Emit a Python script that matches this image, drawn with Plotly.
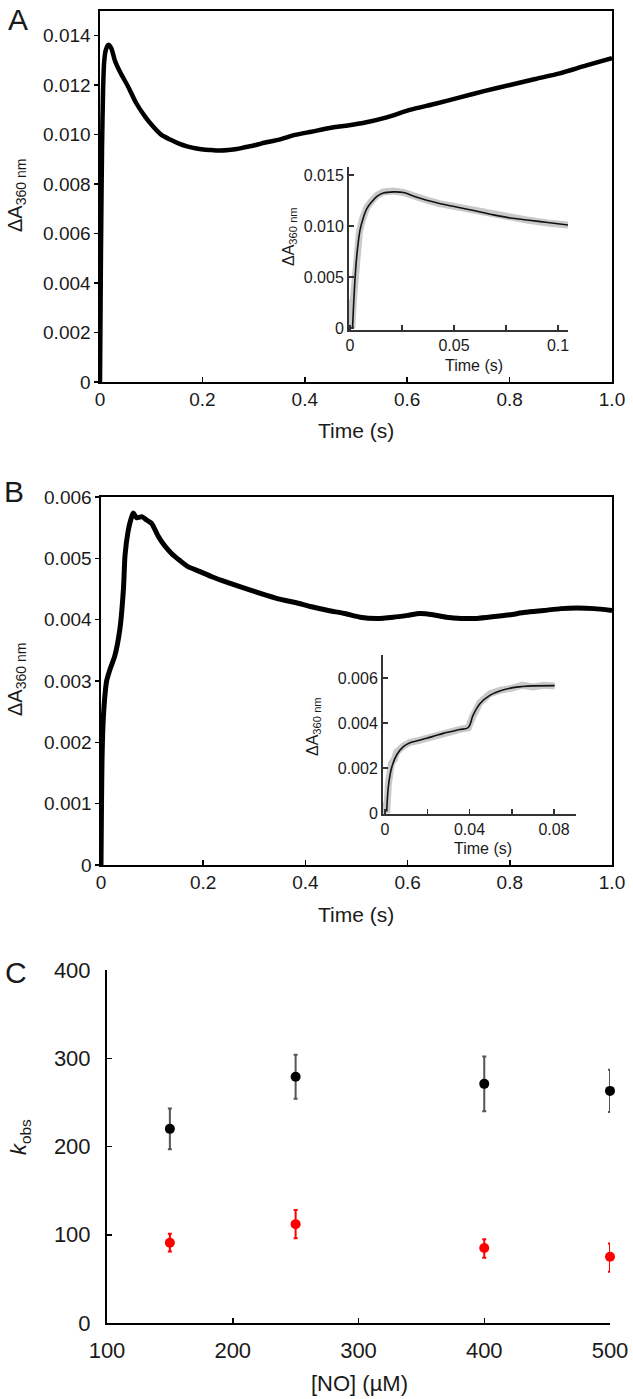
import plotly.graph_objects as go

W, H = 633, 1399
FONT = "Liberation Sans, Arial, sans-serif"
INK = "#1a1a1a"

# ---------------- Panel A (main) ----------------
a_time = [0, 0.001, 0.002, 0.004, 0.006, 0.008, 0.011, 0.016, 0.022, 0.029, 0.04, 0.055, 0.07,
          0.088, 0.105, 0.12, 0.137, 0.153, 0.17, 0.186, 0.202, 0.218, 0.235, 0.251, 0.267,
          0.283, 0.3, 0.316, 0.35, 0.381, 0.413, 0.446, 0.48, 0.511, 0.56, 0.605, 0.655,
          0.703, 0.75, 0.801, 0.85, 0.898, 0.95, 1.0]
a_abs = [0, 0.0028, 0.0055, 0.0095, 0.0118, 0.0129, 0.0134, 0.01363, 0.0135, 0.0130, 0.0125,
         0.01194, 0.0113, 0.01073, 0.0103, 0.00999, 0.0098, 0.00965, 0.00953, 0.00945, 0.0094,
         0.00938, 0.00936, 0.00938, 0.00942, 0.00949, 0.00956, 0.00965, 0.0098, 0.00999,
         0.01012, 0.01026, 0.01036, 0.01046, 0.0107, 0.0110, 0.01125, 0.01151, 0.01176,
         0.01201, 0.01225, 0.01248, 0.0128, 0.01309]

# Panel A inset: data (grey) and fit (black)
ai_data_t = [0, 0.0008, 0.0018, 0.003, 0.0045, 0.006, 0.008, 0.0105, 0.0128, 0.016, 0.0209,
             0.0257, 0.031, 0.0369, 0.043, 0.0506, 0.06, 0.069, 0.077, 0.085, 0.095, 0.105]
ai_data_v = [0.0028, 0.0, 0.0032, 0.0072, 0.0094, 0.0107, 0.0118, 0.0125, 0.0130, 0.01335,
             0.01345, 0.0133, 0.0129, 0.01255, 0.0122, 0.0119, 0.0115, 0.0111, 0.0109,
             0.0106, 0.0103, 0.0101]
ai_fit_t = [0.0012, 0.0016, 0.0024, 0.0032, 0.0048, 0.0065, 0.008, 0.0105, 0.0128, 0.016,
            0.0209, 0.0257, 0.031, 0.0369, 0.0435, 0.0506, 0.06, 0.069, 0.077, 0.085, 0.095, 0.105]
ai_fit_v = [0.0, 0.0018, 0.0048, 0.0070, 0.0096, 0.0109, 0.0117, 0.0124, 0.0129, 0.01325,
            0.01336, 0.0133, 0.0129, 0.01254, 0.0122, 0.0119, 0.0115, 0.0111, 0.0108,
            0.0106, 0.01035, 0.0101]

# ---------------- Panel B (main) ----------------
b_time = [0, 0.001, 0.002, 0.004, 0.007, 0.011, 0.018, 0.027, 0.037, 0.044, 0.047, 0.053,
          0.058, 0.063, 0.07, 0.08, 0.09, 0.099, 0.112, 0.125, 0.138, 0.155, 0.171, 0.195,
          0.217, 0.25, 0.282, 0.315, 0.347, 0.38, 0.412, 0.445, 0.477, 0.507, 0.54, 0.572,
          0.6, 0.624, 0.65, 0.676, 0.705, 0.735, 0.77, 0.8, 0.83, 0.866, 0.9, 0.931, 0.965, 1.0]
b_abs = [0, 0.0010, 0.0017, 0.0023, 0.0027, 0.0030, 0.0032, 0.00341, 0.00385, 0.00451,
         0.00505, 0.00544, 0.00562, 0.00574, 0.00566, 0.00568, 0.00562, 0.00557, 0.00536,
         0.0052, 0.00508, 0.00496, 0.00486, 0.00478, 0.0047, 0.0046, 0.00451, 0.00442,
         0.00434, 0.00428, 0.00421, 0.00415, 0.0041, 0.00404, 0.00402, 0.00404, 0.00407,
         0.0041, 0.00408, 0.00404, 0.00402, 0.00402, 0.00405, 0.00408, 0.00412, 0.00415,
         0.00418, 0.00419, 0.00418, 0.00415]

# Panel B inset: data (grey) and fit (black)
bi_data_t = [0, 0.0008, 0.0016, 0.003, 0.0045, 0.0055, 0.0087, 0.0118, 0.0157, 0.0197,
             0.0236, 0.0276, 0.0315, 0.0354, 0.0394, 0.0417, 0.0449, 0.0496, 0.0543, 0.0606,
             0.065, 0.0701, 0.075, 0.0803]
bi_data_v = [0.0005, 0.0, 0.0013, 0.0022, 0.0024, 0.0027, 0.00298, 0.00314, 0.00322, 0.00334,
             0.00342, 0.00352, 0.00362, 0.00372, 0.00378, 0.00432, 0.0049, 0.0053, 0.00545,
             0.00556, 0.00568, 0.0056, 0.00568, 0.00564]
bi_fit_t = [0.0008, 0.0016, 0.0031, 0.0055, 0.0087, 0.0118, 0.0157, 0.0197, 0.0236, 0.0276,
            0.0315, 0.0354, 0.0394, 0.0417, 0.0449, 0.0496, 0.0543, 0.0606, 0.065, 0.0701, 0.0803]
bi_fit_v = [0.00007, 0.00118, 0.0020, 0.00258, 0.00295, 0.00312, 0.00322, 0.00332, 0.00343,
            0.00354, 0.00362, 0.00371, 0.0038, 0.00435, 0.00486, 0.00523, 0.00542, 0.00557,
            0.00562, 0.00565, 0.00566]

# ---------------- Panel C ----------------
no_conc = [150, 250, 400, 500]
k_black = [220, 279, 271, 263]
k_black_up = [23, 25, 31, 24]
k_black_dn = [23, 25, 31, 24]
k_red = [91, 112, 85, 75]
k_red_up = [10, 16, 10, 15]
k_red_dn = [10, 16, 11, 17]


def px_x(v):
    return v / W


def px_y(v):
    return 1 - v / H


fig = go.Figure()

# main A
fig.add_trace(go.Scatter(x=a_time, y=a_abs, mode="lines",
                         line=dict(color="black", width=4.5, shape="spline", smoothing=0.6),
                         xaxis="x", yaxis="y", showlegend=False))
# inset A
fig.add_trace(go.Scatter(x=ai_data_t, y=ai_data_v, mode="lines",
                         line=dict(color="#c9c9c9", width=7), xaxis="x2", yaxis="y2", showlegend=False))
fig.add_trace(go.Scatter(x=ai_fit_t, y=ai_fit_v, mode="lines", line=dict(color="#111", width=1.6, shape="spline"),
                         xaxis="x2", yaxis="y2", showlegend=False))
# main B
fig.add_trace(go.Scatter(x=b_time, y=b_abs, mode="lines",
                         line=dict(color="black", width=5, shape="spline", smoothing=0.6),
                         xaxis="x3", yaxis="y3", showlegend=False))
# inset B
fig.add_trace(go.Scatter(x=bi_data_t, y=bi_data_v, mode="lines",
                         line=dict(color="#c9c9c9", width=7), xaxis="x4", yaxis="y4", showlegend=False))
fig.add_trace(go.Scatter(x=bi_fit_t, y=bi_fit_v, mode="lines", line=dict(color="#111", width=1.6, shape="spline"),
                         xaxis="x4", yaxis="y4", showlegend=False))
# C
fig.add_trace(go.Scatter(x=no_conc, y=k_black, mode="markers",
                         marker=dict(color="black", size=10),
                         error_y=dict(type="data", array=k_black_up, arrayminus=k_black_dn,
                                      color="#555", thickness=2, width=2),
                         xaxis="x5", yaxis="y5", showlegend=False, cliponaxis=False))
fig.add_trace(go.Scatter(x=no_conc, y=k_red, mode="markers",
                         marker=dict(color="#ff0000", size=10),
                         error_y=dict(type="data", array=k_red_up, arrayminus=k_red_dn,
                                      color="#ff0000", thickness=2, width=2),
                         xaxis="x5", yaxis="y5", showlegend=False, cliponaxis=False))


def axis(domain, rng, tickvals, ticktext, anchor, mirror=False, ticks="inside", size=19,
         lw=1.6, ticklen=5, color="black", standoff=0):
    return dict(domain=domain, range=rng, tickmode="array", tickvals=tickvals, ticktext=ticktext,
                anchor=anchor, showline=True, mirror=mirror, linecolor=color, linewidth=lw,
                ticks=ticks, ticklen=ticklen, tickwidth=1.5, tickcolor=color, showgrid=False,
                zeroline=False, automargin=False, ticklabelstandoff=standoff,
                tickfont=dict(family=FONT, size=size, color=INK), fixedrange=True)


t_main = [0, 0.2, 0.4, 0.6, 0.8, 1.0]
t_main_lbl = ["0", "0.2", "0.4", "0.6", "0.8", "1.0"]
ya_vals = [0, 0.002, 0.004, 0.006, 0.008, 0.010, 0.012, 0.014]
ya_lbl = ["0", "0.002", "0.004", "0.006", "0.008", "0.010", "0.012", "0.014"]
yb_vals = [0, 0.001, 0.002, 0.003, 0.004, 0.005, 0.006]
yb_lbl = ["0", "0.001", "0.002", "0.003", "0.004", "0.005", "0.006"]

layout = dict(
    width=W, height=H, margin=dict(l=0, r=0, t=0, b=0, autoexpand=False),
    paper_bgcolor="white", plot_bgcolor="rgba(0,0,0,0)",
    font=dict(family=FONT, color=INK),
    xaxis=axis([px_x(100), px_x(612)], [0, 1], t_main, t_main_lbl, "y", mirror=True, ticks="inside"),
    yaxis=axis([px_y(382), px_y(11)], [0, 0.015], ya_vals, ya_lbl, "x", mirror=True, ticks="outside", ticklen=4),
    xaxis2=axis([px_x(349), px_x(568)], [-0.0005, 0.1048], [0, 0.025, 0.05, 0.075, 0.1],
                ["0", "", "0.05", "", "0.1"], "y2", size=16, lw=2, ticklen=5, color="#333"),
    yaxis2=axis([px_y(330), px_y(167)], [-0.0002, 0.0158], [0, 0.005, 0.010, 0.015],
                ["0", "0.005", "0.010", "0.015"], "x2", size=16, lw=2, ticklen=5, color="#333"),
    xaxis3=axis([px_x(101), px_x(612)], [0, 1], t_main, t_main_lbl, "y3", mirror=True, ticks="inside"),
    yaxis3=axis([px_y(865), px_y(497)], [0, 0.006], yb_vals, yb_lbl, "x3", mirror=True, ticks="outside", ticklen=4),
    xaxis4=axis([px_x(383), px_x(576)], [-0.00095, 0.0904], [0, 0.02, 0.04, 0.06, 0.08],
                ["0", "", "0.04", "", "0.08"], "y4", size=16, lw=2, ticklen=5, color="#333"),
    yaxis4=axis([px_y(814), px_y(655)], [-0.00004, 0.00702], [0, 0.002, 0.004, 0.006],
                ["0", "0.002", "0.004", "0.006"], "x4", size=16, lw=2, ticklen=5, color="#333"),
    xaxis5=axis([px_x(107), px_x(610)], [100, 500], [100, 200, 300, 400, 500],
                ["100", "200", "300", "400", "500"], "y5", size=22, lw=2, standoff=7),
    yaxis5=axis([px_y(1323), px_y(970)], [0, 400], [0, 100, 200, 300, 400],
                ["0", "100", "200", "300", "400"], "x5", size=22, lw=2, standoff=10),
)


def ann(text, x, y, size, angle=0):
    return dict(text=text, x=px_x(x), y=px_y(y), xref="paper", yref="paper", showarrow=False,
                xanchor="center", yanchor="middle", textangle=angle,
                font=dict(family=FONT, size=size, color=INK))


layout["annotations"] = [
    ann("A", 18, 20, 30), ann("B", 14, 491, 30), ann("C", 16, 972, 30),
    ann("ΔA<sub>360 nm</sub>", 16, 196, 20, -90),
    ann("Time (s)", 356, 430, 21),
    ann("ΔA<sub>360 nm</sub>", 289, 237, 16, -90),
    ann("Time (s)", 474, 365, 16),
    ann("ΔA<sub>360 nm</sub>", 16, 680, 20, -90),
    ann("Time (s)", 356, 914, 21),
    ann("ΔA<sub>360 nm</sub>", 313, 727, 16, -90),
    ann("Time (s)", 483, 848, 16),
    ann("<i>k</i><sub>obs</sub>", 20, 1137, 22, -90),
    ann("[NO] (µM)", 359, 1383, 22),
]

fig.update_layout(**layout)
fig.write_html("out.html", config={"displayModeBar": False, "staticPlot": True},
               post_script="document.body.style.margin='0';document.body.style.overflow='hidden';")
